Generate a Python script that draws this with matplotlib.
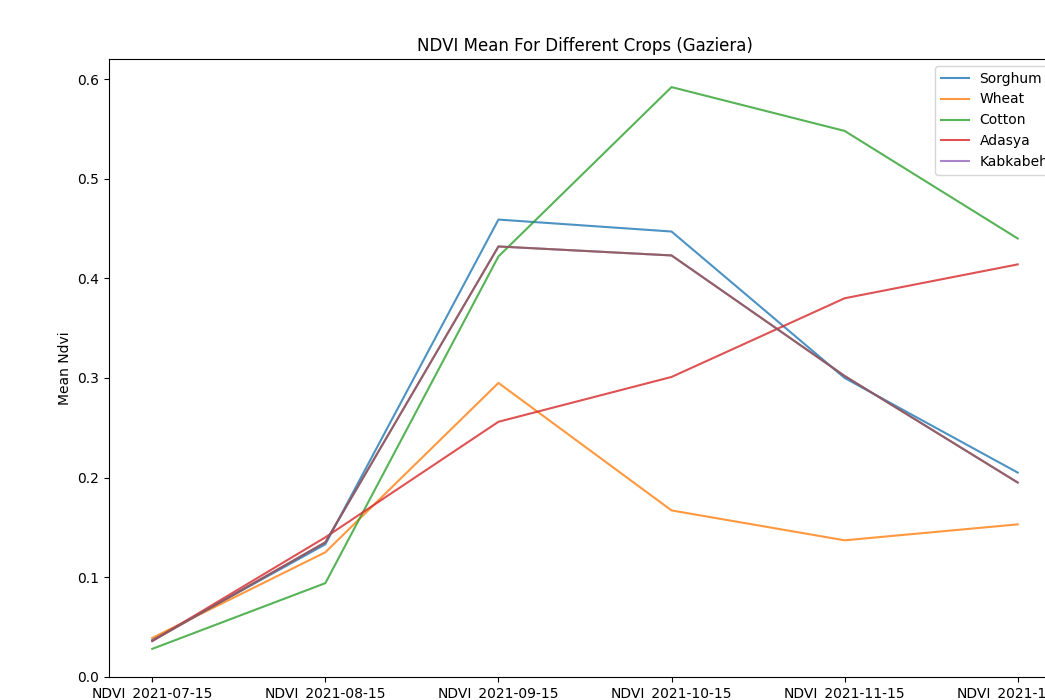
import matplotlib
matplotlib.use("Agg")
import matplotlib.pyplot as plt

dates = ["NDVI_2021-07-15", "NDVI_2021-08-15", "NDVI_2021-09-15",
         "NDVI_2021-10-15", "NDVI_2021-11-15", "NDVI_2021-12-15"]

sorghum = [0.037, 0.133, 0.459, 0.447, 0.300, 0.205]
wheat = [0.039, 0.125, 0.295, 0.167, 0.137, 0.153]
cotton = [0.028, 0.094, 0.422, 0.592, 0.548, 0.440]
adasya = [0.036, 0.140, 0.256, 0.301, 0.380, 0.414]
kabkabeh = [0.036, 0.135, 0.432, 0.423, 0.302, 0.195]

series = [("Sorghum", sorghum, "tab:blue"),
          ("Wheat", wheat, "tab:orange"),
          ("Cotton", cotton, "tab:green"),
          ("Adasya", adasya, "tab:red"),
          ("Kabkabeh", kabkabeh, "tab:purple")]

fig = plt.figure(figsize=(10.45, 7.0), dpi=100)
ax = fig.add_axes([0.1043, 0.0329, 0.911, 0.8828])

x = list(range(len(dates)))
for name, vals, color in series:
    ax.plot(x, vals, color=color, alpha=0.8, lw=1.5, label=name)
# Kabkabeh trace shares its path with a brown overlay
ax.plot(x, kabkabeh, color="tab:brown", alpha=0.8, lw=1.5, label="_nolegend_")

ax.set_xticks(x)
ax.set_xticklabels(dates)
ax.set_yticks([0.0, 0.1, 0.2, 0.3, 0.4, 0.5, 0.6])
ax.set_ylabel("Mean Ndvi")
ax.set_title("NDVI Mean For Different Crops (Gaziera)")
ax.legend(loc="upper right")

fig.savefig("out.png", dpi=100)
